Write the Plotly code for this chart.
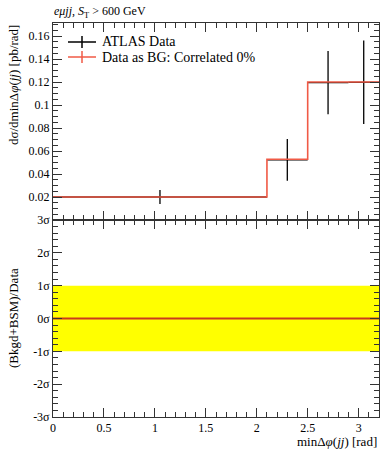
import plotly.graph_objects as go

# ---- data ----
bin_edges = [0.0, 2.1, 2.5, 2.9, 3.2]
data_vals = [0.0200, 0.0523, 0.1195, 0.1197]
data_err_up = [0.0060, 0.0181, 0.0275, 0.0363]
data_err_dn = [0.0061, 0.0181, 0.0275, 0.0362]
mc_vals = [0.0200, 0.0528, 0.1200, 0.1200]
ratio_vals = [0.0, 0.0, 0.0, 0.0]
ratio_band = [-1.0, 1.0]
ratio_ticks = [-3, -2, -1, 0, 1, 2, 3]
ratio_ticklabels = ["-3σ", "-2σ", "-1σ", "0σ", "1σ", "2σ", "3σ"]
x_ticks = [0, 0.5, 1, 1.5, 2, 2.5, 3]
x_ticklabels = ["0", "0.5", "1", "1.5", "2", "2.5", "3"]
main_yticks = [0.02, 0.04, 0.06, 0.08, 0.1, 0.12, 0.14, 0.16]
main_yticklabels = ["0.02", "0.04", "0.06", "0.08", "0.1", "0.12", "0.14", "0.16"]

centers = [(a + b) / 2 for a, b in zip(bin_edges[:-1], bin_edges[1:])]
halfw = [(b - a) / 2 for a, b in zip(bin_edges[:-1], bin_edges[1:])]

FONT = "Liberation Serif"
AX = "#333333"
RED = "#f05a46"

fig = go.Figure()

# data
fig.add_trace(go.Scatter(
    x=centers, y=data_vals, mode="markers",
    marker=dict(size=1, color="black"),
    error_y=dict(type="data", symmetric=False, array=data_err_up, arrayminus=data_err_dn,
                 color="black", thickness=1.3, width=0),
    error_x=dict(type="data", array=halfw, color="black", thickness=1.3, width=0),
    xaxis="x", yaxis="y", showlegend=False))

# MC step
fig.add_trace(go.Scatter(
    x=bin_edges, y=mc_vals + [mc_vals[-1]], mode="lines", line_shape="hv",
    line=dict(color=RED, width=1.6), xaxis="x", yaxis="y", showlegend=False))

# ratio band
fig.add_trace(go.Scatter(
    x=[bin_edges[0], bin_edges[-1], bin_edges[-1], bin_edges[0]],
    y=[ratio_band[0], ratio_band[0], ratio_band[1], ratio_band[1]],
    fill="toself", fillcolor="#ffff00", line=dict(width=0), mode="lines",
    xaxis="x2", yaxis="y2", showlegend=False, hoverinfo="skip"))

# ratio line
fig.add_trace(go.Scatter(
    x=bin_edges, y=ratio_vals + [ratio_vals[-1]], mode="lines", line_shape="hv",
    line=dict(color="#cc3a1c", width=2), xaxis="x2", yaxis="y2", showlegend=False))

axis_common = dict(
    showline=True, linecolor=AX, linewidth=1, mirror="allticks",
    ticks="inside", tickcolor=AX, ticklen=9, tickwidth=1,
    showgrid=False, zeroline=False,
    tickfont=dict(family=FONT, size=12, color="black"),
)

fig.update_layout(
    width=392, height=450,
    margin=dict(l=53, r=13, t=23, b=33),
    paper_bgcolor="white", plot_bgcolor="white",
    xaxis=dict(domain=[0, 1], range=[0, 3.2], anchor="y", matches="x2",
               tickvals=x_ticks, showticklabels=False,
               minor=dict(ticks="inside", dtick=0.1, tick0=0, ticklen=5, tickcolor=AX, showgrid=False),
               **axis_common),
    yaxis=dict(domain=[0.5, 1], range=[0, 0.1713], anchor="x",
               tickvals=main_yticks, ticktext=main_yticklabels,
               minor=dict(ticks="inside", dtick=0.005, tick0=0, ticklen=5, tickcolor=AX, showgrid=False),
               **axis_common),
    xaxis2=dict(domain=[0, 1], range=[0, 3.2], anchor="y2",
                tickvals=x_ticks, ticktext=x_ticklabels,
                minor=dict(ticks="inside", dtick=0.1, tick0=0, ticklen=5, tickcolor=AX, showgrid=False),
                **axis_common),
    yaxis2=dict(domain=[0, 0.5], range=[-3, 3], anchor="x2",
                tickvals=ratio_ticks, ticktext=ratio_ticklabels,
                minor=dict(ticks="inside", dtick=0.2, tick0=0, ticklen=5, tickcolor=AX, showgrid=False),
                **axis_common),
)

def px2paper(px, py):
    return (px - 53) / 326.0, (417 - py) / 394.0

ann = []
# title
x0, y0 = px2paper(52, 12)
ann.append(dict(x=x0, y=y0, xref="paper", yref="paper", xanchor="left", yanchor="middle",
                text="<i>eμjj</i>, <i>S</i><sub>T</sub> > 600 GeV", showarrow=False,
                font=dict(family=FONT, size=12, color="black")))
# y title main
x0, y0 = px2paper(13, 23)
ann.append(dict(x=x0, y=y0, xref="paper", yref="paper", xanchor="center", yanchor="top",
                textangle=-90,
                text="dσ/dminΔ<i>φ</i>(<i>jj</i>) [pb/rad]", showarrow=False,
                font=dict(family=FONT, size=13, color="black")))
# y title ratio
x0, y0 = px2paper(13, 318)
ann.append(dict(x=x0, y=y0, xref="paper", yref="paper", xanchor="center", yanchor="middle",
                textangle=-90, text="(Bkgd+BSM)/Data", showarrow=False,
                font=dict(family=FONT, size=13, color="black")))
# x title
x0, y0 = px2paper(379, 441)
ann.append(dict(x=x0, y=y0, xref="paper", yref="paper", xanchor="right", yanchor="middle",
                text="minΔ<i>φ</i>(<i>jj</i>) [rad]", showarrow=False,
                font=dict(family=FONT, size=13, color="black")))

# legend
shapes = []
leg = [("ATLAS Data", "black", 42), ("Data as BG: Correlated 0%", RED, 57)]
for label, col, py in leg:
    xa, ya = px2paper(68, py)
    xb, _ = px2paper(96, py)
    xc, _ = px2paper(82, py)
    _, yt = px2paper(82, py - 6)
    _, yb = px2paper(82, py + 6)
    shapes.append(dict(type="line", xref="paper", yref="paper", x0=xa, x1=xb, y0=ya, y1=ya,
                       line=dict(color=col, width=1.5)))
    shapes.append(dict(type="line", xref="paper", yref="paper", x0=xc, x1=xc, y0=yb, y1=yt,
                       line=dict(color=col, width=1.5)))
    xt, yt2 = px2paper(100, py)
    ann.append(dict(x=xt, y=yt2, xref="paper", yref="paper", xanchor="left", yanchor="middle",
                    text=label, showarrow=False, font=dict(family=FONT, size=14, color="black")))

fig.update_layout(annotations=ann, shapes=shapes)
fig.write_html("out.html", config={"displayModeBar": False},
               post_script="document.body.style.margin='0px';document.body.style.overflow='hidden';")
